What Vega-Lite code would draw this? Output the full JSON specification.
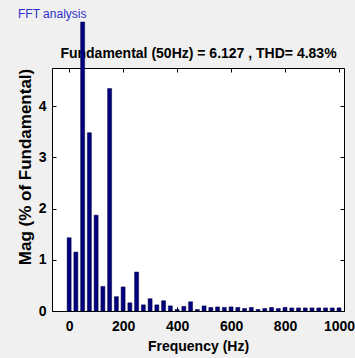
{
  "$schema": "https://vega.github.io/schema/vega-lite/v6.json",
  "autosize": "none",
  "width": 292,
  "height": 243,
  "padding": {"left": 52, "top": 68, "right": 11, "bottom": 47},
  "background": "#f0f0f0",
  "config": {
    "view": {"fill": "white", "stroke": "black", "strokeWidth": 1},
    "font": "Liberation Sans, Arial, sans-serif"
  },
  "title": {
    "text": "FFT analysis",
    "font": "Liberation Sans, Arial, sans-serif",
    "fontSize": 12,
    "fontWeight": "normal",
    "color": "#2e2ec8",
    "anchor": "start",
    "frame": "group",
    "dx": -34,
    "offset": 1
  },
  "data": {"values": [
    {"freq": 0, "mag": 1.43}, {"freq": 25, "mag": 1.15}, {"freq": 50, "mag": 100},
    {"freq": 75, "mag": 3.48}, {"freq": 100, "mag": 1.87}, {"freq": 125, "mag": 0.48},
    {"freq": 150, "mag": 4.34}, {"freq": 175, "mag": 0.28}, {"freq": 200, "mag": 0.47},
    {"freq": 225, "mag": 0.16}, {"freq": 250, "mag": 0.76}, {"freq": 275, "mag": 0.12},
    {"freq": 300, "mag": 0.24}, {"freq": 325, "mag": 0.12}, {"freq": 350, "mag": 0.2},
    {"freq": 375, "mag": 0.1}, {"freq": 400, "mag": 0.03}, {"freq": 425, "mag": 0.09},
    {"freq": 450, "mag": 0.18}, {"freq": 475, "mag": 0.03}, {"freq": 500, "mag": 0.1},
    {"freq": 525, "mag": 0.07}, {"freq": 550, "mag": 0.08}, {"freq": 575, "mag": 0.07},
    {"freq": 600, "mag": 0.08}, {"freq": 625, "mag": 0.07}, {"freq": 650, "mag": 0.05},
    {"freq": 675, "mag": 0.07}, {"freq": 700, "mag": 0.03}, {"freq": 725, "mag": 0.05},
    {"freq": 750, "mag": 0.07}, {"freq": 775, "mag": 0.05}, {"freq": 800, "mag": 0.07},
    {"freq": 825, "mag": 0.06}, {"freq": 850, "mag": 0.06}, {"freq": 875, "mag": 0.06},
    {"freq": 900, "mag": 0.06}, {"freq": 925, "mag": 0.06}, {"freq": 950, "mag": 0.06},
    {"freq": 975, "mag": 0.06}, {"freq": 1000, "mag": 0.06}
  ]},
  "layer": [
    {
      "mark": {"type": "bar", "size": 4, "color": "#000080", "stroke": "#000033", "strokeWidth": 0.5, "zindex": 1, "clip": false},
      "encoding": {
        "x": {
          "field": "freq", "type": "quantitative",
          "scale": {"domain": [-45, 1000], "nice": false, "zero": false},
          "axis": {
            "orient": "bottom", "values": [0, 200, 400, 600, 800, 1000], "format": "d",
            "title": "Frequency (Hz)", "grid": false, "domain": false,
            "tickSize": -4, "tickColor": "black", "labelPadding": 12,
            "labelFontSize": 14, "labelFontWeight": "bold", "labelColor": "black",
            "labelFlush": false, "labelBound": false, "labelOverlap": false,
            "titleFontSize": 14, "titleFontWeight": "bold", "titleColor": "black",
            "titlePadding": 6
          }
        },
        "y": {
          "field": "mag", "type": "quantitative",
          "scale": {"domain": [0, 5.64], "range": [243, -46], "clamp": true, "nice": false, "zero": true},
          "axis": {
            "orient": "left", "values": [0, 1, 2, 3, 4],
            "title": "Mag (% of Fundamental)", "grid": false, "domain": false,
            "tickSize": -4, "tickColor": "black", "labelPadding": 10,
            "labelFontSize": 14, "labelFontWeight": "bold", "labelColor": "black",
            "titleFontSize": 17, "titleFontWeight": "bold", "titleColor": "black",
            "titlePadding": 4
          }
        }
      }
    },
    {
      "mark": {"type": "bar", "size": 4, "opacity": 0},
      "encoding": {
        "x": {
          "field": "freq", "type": "quantitative",
          "axis": {
            "orient": "top", "values": [0, 200, 400, 600, 800, 1000],
            "labels": false, "grid": false, "domain": false,
            "tickSize": -4, "tickColor": "black",
            "title": "Fundamental (50Hz) = 6.127 , THD= 4.83%",
            "titleX": 146, "titleY": -11, "titleAngle": 0,
            "titleAlign": "center", "titleBaseline": "alphabetic",
            "titleFontSize": 14, "titleFontWeight": "bold", "titleColor": "black"
          }
        },
        "y": {
          "field": "mag", "type": "quantitative",
          "axis": {
            "orient": "right", "values": [0, 1, 2, 3, 4],
            "labels": false, "grid": false, "domain": false,
            "tickSize": -4, "tickColor": "black", "title": null
          }
        }
      }
    }
  ],
  "resolve": {"axis": {"x": "independent", "y": "independent"}}
}
